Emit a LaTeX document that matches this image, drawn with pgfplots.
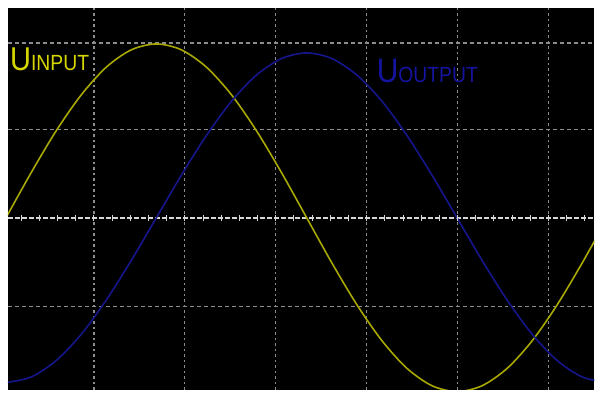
\documentclass[border=0pt]{standalone}
\usepackage{pgfplots}
\pgfplotsset{compat=1.18}
\usepackage{fontspec}
\setmainfont{Liberation Sans}
\definecolor{yline}{RGB}{168,168,0}
\definecolor{ytext}{RGB}{215,215,0}
\definecolor{bline}{RGB}{22,22,140}
\definecolor{btext}{RGB}{20,20,160}
\definecolor{gridc}{RGB}{140,140,140}
\definecolor{centc}{RGB}{215,215,215}
\begin{document}
\begin{tikzpicture}[x=1pt,y=1pt]
\path[fill=white] (0,0) rectangle (595,390);
\begin{axis}[
  at={(8pt,0pt)}, anchor=south west,
  scale only axis, width=587pt, height=382pt,
  xmin=8, xmax=595, ymin=-390, ymax=-8,
  axis background/.style={fill=black},
  axis line style={draw=none},
  xtick={94,185,276,367,458,549}, xticklabels={},
  ytick={-43,-130,-307}, yticklabels={},
  major tick length=0pt,
  grid=major,
  x grid style={gridc, line width=1.2pt, dash pattern=on 2.5pt off 3pt},
  y grid style={gridc, line width=1.2pt, dash pattern=on 4pt off 3pt},
  clip=true,
]
% centre line with small ticks
\addplot[centc, line width=1.5pt, dash pattern=on 5pt off 2pt] coordinates {(8,-218) (595,-218)};
\addplot[only marks, mark=|, mark size=3pt, mark options={centc, line width=1pt}] coordinates {
(21.2,-218) (39.4,-218) (57.6,-218) (75.8,-218) (94,-218) (112.2,-218) (130.4,-218) (148.6,-218) (166.8,-218) (185,-218)
(203.2,-218) (221.4,-218) (239.6,-218) (257.8,-218) (276,-218) (294.2,-218) (312.4,-218) (330.6,-218) (348.8,-218) (367,-218)
(385.2,-218) (403.4,-218) (421.6,-218) (439.8,-218) (458,-218) (476.2,-218) (494.4,-218) (512.6,-218) (530.8,-218) (549,-218)
(567.2,-218) (585.4,-218)};
% input (yellow)
\addplot[yline, line width=1.6pt, smooth] coordinates {
(6.0,-218) (31.1,-173) (56.2,-131) (81.3,-95) (106.3,-67.3) (131.4,-49.9) (156.5,-44) (181.6,-49.9) (206.7,-67.3)
(231.8,-95) (256.8,-131) (281.9,-173) (307.0,-218) (332.1,-263) (357.2,-305) (382.3,-341) (407.3,-368.7)
(432.4,-386.1) (457.5,-392) (482.6,-386.1) (507.7,-368.7) (532.8,-341) (557.8,-305) (582.9,-263) (608.0,-218)};
% output (blue)
\addplot[bline, line width=1.6pt, smooth] coordinates {
(6.0,-383) (31.1,-377.4) (56.2,-360.9) (81.3,-334.7) (106.3,-300.5) (131.4,-260.7) (156.5,-218) (181.6,-175.3)
(206.7,-135.5) (231.8,-101.3) (256.8,-75.1) (281.9,-58.6) (307.0,-53) (332.1,-58.6) (357.2,-75.1) (382.3,-101.3)
(407.3,-135.5) (432.4,-175.3) (457.5,-218) (482.6,-260.7) (507.7,-300.5) (532.8,-334.7) (557.8,-360.9)
(582.9,-377.4) (608.0,-383)};
\node[anchor=base west, inner sep=0pt, text=ytext, xscale=0.88] at (axis cs:10,-71)
  {\fontsize{33}{33}\selectfont U\fontsize{22}{22}\selectfont INPUT};
\node[anchor=base west, inner sep=0pt, text=btext, xscale=0.88] at (axis cs:377,-83)
  {\fontsize{34}{34}\selectfont U\fontsize{22}{22}\selectfont OUTPUT};
\end{axis}
\end{tikzpicture}
\end{document}
